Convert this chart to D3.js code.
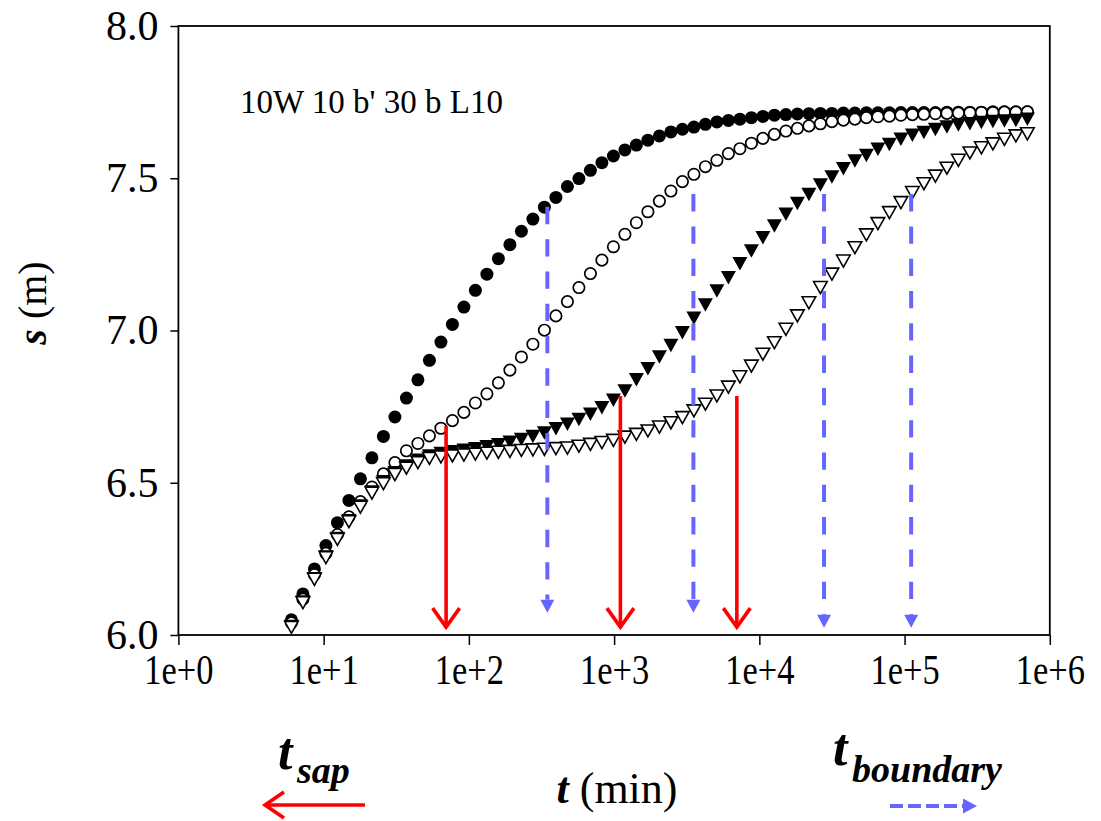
<!DOCTYPE html>
<html>
<head>
<meta charset="utf-8">
<script src="https://cdn.jsdelivr.net/npm/d3@7"></script>
<style>
  body { margin: 0; background: #fff; }
  text { font-family: "Liberation Serif", "Times New Roman", serif; }
</style>
</head>
<body>
<div id="chart"></div>
<script>
    // time steps (min)
    var tMin = [6, 7.2, 8.64, 10.37, 12.44, 14.93, 17.92, 21.5, 25.8, 30.96,
                37.15, 44.58, 53.5, 64.2, 77.04, 92.44, 110.9, 133.1, 159.7, 191.7,
                230.0, 276.0, 331.2, 397.5, 477.0, 572.4, 686.9, 824.2, 989.1, 1187,
                1424, 1709, 2051, 2461, 2953, 3544, 4253, 5103, 6124, 7349,
                8819, 10582, 12699, 15239, 18286, 21944, 26332, 31599, 37919, 45502,
                54603, 65524, 78628, 94354, 113225, 135870, 163044, 195652, 234783, 281739,
                338087, 405705, 486846, 584215, 701058];

    // drawdown s (m), four runs
    var sFilledCircle = [6.050, 6.135, 6.217, 6.294, 6.369, 6.442, 6.513, 6.582, 6.652, 6.716,
                         6.778, 6.838, 6.902, 6.962, 7.020, 7.077, 7.132, 7.185, 7.236, 7.282,
                         7.326, 7.366, 7.405, 7.437, 7.473, 7.499, 7.526, 7.551, 7.573, 7.593,
                         7.609, 7.625, 7.639, 7.652, 7.661, 7.668, 7.677, 7.685, 7.690, 7.694,
                         7.699, 7.703, 7.707, 7.709, 7.711, 7.712, 7.713, 7.713, 7.714, 7.714,
                         7.715, 7.715, 7.715, 7.716, 7.716, 7.716, 7.716, 7.717, 7.717, 7.717,
                         7.717, 7.718, 7.718, 7.718, 7.718];
    var sOpenCircle = [6.040, 6.118, 6.198, 6.268, 6.330, 6.388, 6.438, 6.486, 6.529, 6.566,
                       6.605, 6.629, 6.654, 6.679, 6.704, 6.731, 6.762, 6.792, 6.828, 6.870,
                       6.913, 6.955, 7.001, 7.048, 7.095, 7.141, 7.187, 7.231, 7.275, 7.316,
                       7.354, 7.390, 7.425, 7.458, 7.489, 7.513, 7.538, 7.559, 7.581, 7.597,
                       7.615, 7.631, 7.644, 7.655, 7.664, 7.672, 7.679, 7.686, 7.691, 7.694,
                       7.699, 7.702, 7.704, 7.707, 7.709, 7.710, 7.712, 7.713, 7.714, 7.715,
                       7.716, 7.716, 7.717, 7.717, 7.718];
    var sFilledTri = [6.028, 6.108, 6.185, 6.256, 6.317, 6.375, 6.424, 6.470, 6.503, 6.533,
                      6.555, 6.574, 6.588, 6.596, 6.602, 6.607, 6.612, 6.618, 6.625, 6.633,
                      6.642, 6.652, 6.663, 6.677, 6.692, 6.708, 6.725, 6.746, 6.771, 6.801,
                      6.838, 6.874, 6.913, 6.951, 6.993, 7.040, 7.084, 7.130, 7.173, 7.219,
                      7.261, 7.305, 7.343, 7.382, 7.417, 7.447, 7.478, 7.504, 7.531, 7.557,
                      7.575, 7.595, 7.611, 7.628, 7.641, 7.650, 7.660, 7.668, 7.675, 7.679,
                      7.683, 7.686, 7.688, 7.690, 7.694];
    var sOpenTri = [6.025, 6.106, 6.183, 6.254, 6.314, 6.372, 6.420, 6.466, 6.497, 6.527,
                    6.548, 6.566, 6.580, 6.585, 6.588, 6.591, 6.594, 6.597, 6.600, 6.603,
                    6.606, 6.608, 6.610, 6.612, 6.614, 6.620, 6.626, 6.632, 6.639, 6.650,
                    6.659, 6.670, 6.683, 6.697, 6.714, 6.736, 6.758, 6.785, 6.814, 6.848,
                    6.883, 6.922, 6.960, 7.004, 7.048, 7.091, 7.141, 7.185, 7.228, 7.272,
                    7.314, 7.351, 7.387, 7.420, 7.453, 7.482, 7.507, 7.533, 7.559, 7.583,
                    7.600, 7.613, 7.628, 7.639, 7.646];

    // t_sap (red) and t_boundary (blue) markers
    var sapT = [69.7, 1105, 7000];
    var sapTop = [6.686, 6.785, 6.785];
    var sapEnd = [6.026, 6.026, 6.026];
    var bndT = [347, 3516, 27900, 111000];
    var bndTop = [7.406, 7.448, 7.448, 7.448];
    var bndEnd = [6.073, 6.073, 6.024, 6.024];

    var xTicks = [1, 10, 100, 1000, 10000, 100000, 1000000];
    var yTicks = [6.0, 6.5, 7.0, 7.5, 8.0];

    var red = "#ff0000", blue = "#6666ff";
    var width = 1101, height = 821;
    var plotL = 178.4, plotR = 1049.8, plotT = 26, plotB = 635;

    var svg = d3.select("#chart").append("svg")
        .attr("width", width)
        .attr("height", height);

    var x = d3.scaleLog().domain([1, 1e6]).range([plotL, plotR]);
    var y = d3.scaleLinear().domain([6, 8]).range([plotB, plotT]);

    // axes
    var xAxis = svg.append("g")
        .attr("transform", "translate(0," + plotB + ")")
        .call(d3.axisBottom(x).tickValues(xTicks).tickSizeOuter(0).tickSize(10).tickPadding(9)
              .tickFormat(function(d) { return "1e+" + Math.round(Math.log10(d)); }));
    var yAxis = svg.append("g")
        .attr("transform", "translate(" + plotL + ",0)")
        .call(d3.axisLeft(y).tickValues(yTicks).tickSizeOuter(0).tickSize(8).tickPadding(12)
              .tickFormat(d3.format(".1f")));
    [xAxis, yAxis].forEach(function(a) {
      a.select(".domain").remove();
      a.selectAll("line").attr("stroke", "#000").attr("stroke-width", 1.5);
      a.selectAll("text").attr("fill", "#000").style("font-size", "42px")
        .style("font-family", "'Liberation Serif', 'Times New Roman', serif");
    });
    // x tick labels are narrower in the original
    xAxis.selectAll(".tick text").attr("transform", "scale(0.82,1)");

    // frame
    svg.append("rect")
        .attr("x", plotL).attr("y", plotT)
        .attr("width", plotR - plotL).attr("height", plotB - plotT)
        .attr("fill", "none").attr("stroke", "#000").attr("stroke-width", 1.8);

    // markers
    function tri(w, h) {
      return "M" + (-w / 2) + "," + (-h / 2) + "L" + (w / 2) + "," + (-h / 2) + "L0," + (h / 2) + "Z";
    }
    var pts = function(s) { return tMin.map(function(t, i) { return [t, s[i]]; }); };

    svg.append("g").selectAll("circle").data(pts(sFilledCircle)).enter().append("circle")
        .attr("cx", function(d) { return x(d[0]); })
        .attr("cy", function(d) { return y(d[1]); })
        .attr("r", 6.5).attr("fill", "#000");
    svg.append("g").selectAll("circle").data(pts(sOpenCircle)).enter().append("circle")
        .attr("cx", function(d) { return x(d[0]); })
        .attr("cy", function(d) { return y(d[1]); })
        .attr("r", 5.7).attr("fill", "#fff").attr("stroke", "#000").attr("stroke-width", 1.7);
    svg.append("g").selectAll("path").data(pts(sFilledTri)).enter().append("path")
        .attr("transform", function(d) { return "translate(" + x(d[0]) + "," + y(d[1]) + ")"; })
        .attr("d", tri(15, 13.5)).attr("fill", "#000");
    svg.append("g").selectAll("path").data(pts(sOpenTri)).enter().append("path")
        .attr("transform", function(d) { return "translate(" + x(d[0]) + "," + y(d[1]) + ")"; })
        .attr("d", tri(13.6, 12)).attr("fill", "#fff").attr("stroke", "#000")
        .attr("stroke-width", 1.6).attr("stroke-linejoin", "miter");

    // t_sap arrows
    var sap = svg.append("g").attr("stroke", red).attr("stroke-width", 3.6).attr("fill", "none");
    sapT.forEach(function(t, i) {
      var px = x(t), tip = y(sapEnd[i]);
      sap.append("line").attr("x1", px).attr("x2", px).attr("y1", y(sapTop[i])).attr("y2", tip - 1);
      sap.append("path").attr("d", "M" + (px - 13.5) + "," + (tip - 19) + "L" + px + "," + tip + "L" + (px + 13.5) + "," + (tip - 19));
    });

    // t_boundary arrows
    var bnd = svg.append("g");
    bndT.forEach(function(t, i) {
      var px = x(t), tip = y(bndEnd[i]);
      bnd.append("line").attr("x1", px).attr("x2", px).attr("y1", y(bndTop[i])).attr("y2", tip - 13)
          .attr("stroke", blue).attr("stroke-width", 4).attr("stroke-dasharray", "17.3,15");
      bnd.append("path").attr("d", "M" + (px - 7) + "," + (tip - 13) + "L" + (px + 7) + "," + (tip - 13) + "L" + px + "," + tip + "Z")
          .attr("fill", blue);
    });

    // annotation
    svg.append("text").attr("x", 240).attr("y", 113).style("font-size", "33px").text("10W 10 b' 30 b L10");

    // axis titles
    var yt = svg.append("text").attr("transform", "translate(46,303) rotate(-90)")
        .attr("text-anchor", "middle").style("font-size", "40px");
    yt.append("tspan").style("font-weight", "bold").style("font-style", "italic").text("s");
    yt.append("tspan").text(" (m)");

    var xt = svg.append("text").attr("x", 617).attr("y", 803)
        .attr("text-anchor", "middle").style("font-size", "44px");
    xt.append("tspan").style("font-weight", "bold").style("font-style", "italic").text("t");
    xt.append("tspan").text(" (min)");

    // legend: t_sap
    var l1 = svg.append("text").style("font-weight", "bold").style("font-style", "italic");
    l1.append("tspan").attr("x", 278).attr("y", 769).style("font-size", "52px").text("t");
    l1.append("tspan").attr("x", 297).attr("y", 783).style("font-size", "38px").text("sap");
    svg.append("line").attr("x1", 267).attr("x2", 365).attr("y1", 805).attr("y2", 805)
        .attr("stroke", red).attr("stroke-width", 3.6);
    svg.append("path").attr("d", "M284,792L265,805L284,818")
        .attr("fill", "none").attr("stroke", red).attr("stroke-width", 3.6);

    // legend: t_boundary
    var l2 = svg.append("text").style("font-weight", "bold").style("font-style", "italic");
    l2.append("tspan").attr("x", 833).attr("y", 765).style("font-size", "52px").text("t");
    l2.append("tspan").attr("x", 852).attr("y", 782).style("font-size", "38px").text("boundary");
    svg.append("line").attr("x1", 890).attr("x2", 963).attr("y1", 806).attr("y2", 806)
        .attr("stroke", blue).attr("stroke-width", 4).attr("stroke-dasharray", "13,5");
    svg.append("path").attr("d", "M963,798.5L977,806L963,813.5Z").attr("fill", blue);
</script>
</body>
</html>
